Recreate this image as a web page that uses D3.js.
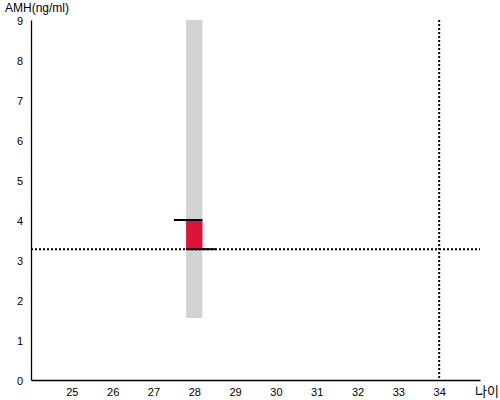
<!DOCTYPE html>
<html><head><meta charset="utf-8">
<script src="https://cdn.jsdelivr.net/npm/d3@7"></script>
<style>body{margin:0;background:#fff}svg{display:block;font-family:"Liberation Sans",Arial,sans-serif}</style>
</head><body><svg id="c" width="500" height="400"></svg>
<script>
const xTicks = [25,26,27,28,29,30,31,32,33,34];
const yTicks = [0,1,2,3,4,5,6,7,8,9];
const rangeAge = [28];
const rangeMin = [1.55];
const rangeMax = [9];
const medianVal = [4.0];
const userVal = [3.27];
const userAge = [34];
const xLabel = "나이";
const yLabel = "AMH(ng/ml)";

const svg = d3.select("#c");
const x = d3.scaleLinear().domain([24,35]).range([31,480]);
const y = d3.scaleLinear().domain([0,9]).range([380,20]);
const hw = 0.2;

svg.selectAll("rect.band").data(rangeAge).enter().append("rect")
  .attr("x", (d)=>x(d-hw)).attr("width", (d)=>x(d+hw)-x(d-hw))
  .attr("y", (d,i)=>y(rangeMax[i])).attr("height",(d,i)=>y(rangeMin[i])-y(rangeMax[i]))
  .attr("fill","#d3d3d3");
svg.selectAll("rect.red").data(rangeAge).enter().append("rect")
  .attr("x", (d)=>x(d-hw)).attr("width", (d)=>x(d+hw)-x(d-hw))
  .attr("y", (d,i)=>y(medianVal[i])).attr("height",(d,i)=>y(userVal[i])-y(medianVal[i]))
  .attr("fill","#dc143c");

svg.append("line").attr("x1",x(24)).attr("x2",x(35)).attr("y1",y(userVal[0])).attr("y2",y(userVal[0]))
  .attr("stroke","#000").attr("stroke-width",2).attr("stroke-dasharray","2,2");
svg.append("line").attr("x1",x(userAge[0])).attr("x2",x(userAge[0])).attr("y1",y(9)).attr("y2",y(0))
  .attr("stroke","#000").attr("stroke-width",2).attr("stroke-dasharray","2,2");

svg.append("line").attr("x1",x(rangeAge[0]-0.5)).attr("x2",x(rangeAge[0]+hw)).attr("y1",y(medianVal[0])).attr("y2",y(medianVal[0]))
  .attr("stroke","#000").attr("stroke-width",2);
svg.append("line").attr("x1",x(rangeAge[0]-hw)).attr("x2",x(rangeAge[0]+0.52)).attr("y1",y(userVal[0])).attr("y2",y(userVal[0]))
  .attr("stroke","#000").attr("stroke-width",2);

const xa = svg.append("g").attr("transform","translate(0,380)")
  .call(d3.axisBottom(x).tickValues(xTicks).tickSize(0).tickPadding(8).tickSizeOuter(0));
xa.select(".domain").attr("stroke","#000").attr("stroke-width",1.3);
xa.selectAll("text").attr("font-size",11).attr("fill","#000").attr("font-family","Liberation Sans, Arial, sans-serif");
const ya = svg.append("g").attr("transform","translate(31,0)")
  .call(d3.axisLeft(y).tickValues(yTicks).tickSize(0).tickPadding(8).tickSizeOuter(0));
ya.select(".domain").attr("stroke","#000").attr("stroke-width",1.3);
ya.selectAll("text").attr("font-size",11).attr("fill","#000").attr("dy","0.45em").attr("font-family","Liberation Sans, Arial, sans-serif");

svg.append("text").attr("x",5).attr("y",12).attr("font-size",12).text(yLabel);
svg.append("text").attr("x",475).attr("y",396).attr("font-size",13)
  .attr("font-family","Noto Sans CJK KR, sans-serif").text(xLabel);
</script></body></html>
